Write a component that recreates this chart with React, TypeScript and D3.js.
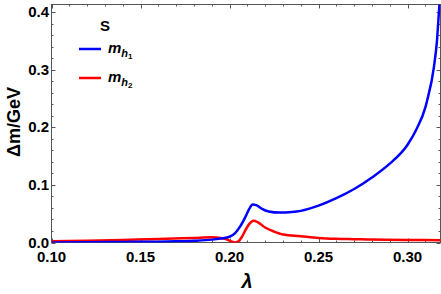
import React, { useEffect, useRef } from 'react';
import * as d3 from 'd3';

// lambda values and mass splittings
const lambdaH1 = [0.1, 0.12, 0.14, 0.16, 0.17, 0.18, 0.19, 0.195, 0.2, 0.203, 0.206, 0.209, 0.211, 0.213, 0.215, 0.218, 0.222, 0.228, 0.235, 0.24, 0.25, 0.26, 0.27, 0.28, 0.29, 0.3, 0.305, 0.31, 0.311, 0.3148, 0.3165, 0.3176, 0.3185];
const deltaH1 = [0.0, 0.0005, 0.001, 0.0015, 0.002, 0.003, 0.005, 0.007, 0.01, 0.016, 0.028, 0.045, 0.058, 0.066, 0.065, 0.059, 0.054, 0.052, 0.053, 0.055, 0.064, 0.077, 0.093, 0.113, 0.137, 0.17, 0.197, 0.235, 0.247, 0.305, 0.35, 0.4, 0.44];

const lambdaH2 = [0.1, 0.12, 0.14, 0.16, 0.18, 0.19, 0.195, 0.198, 0.201, 0.203, 0.205, 0.207, 0.209, 0.211, 0.2135, 0.216, 0.22, 0.225, 0.23, 0.24, 0.25, 0.26, 0.27, 0.28, 0.3, 0.3185];
const deltaH2 = [0.002, 0.003, 0.0045, 0.006, 0.008, 0.009, 0.008, 0.006, 0.002, 0.0, 0.002, 0.01, 0.022, 0.032, 0.038, 0.035, 0.026, 0.019, 0.014, 0.011, 0.008, 0.0065, 0.0058, 0.005, 0.0045, 0.004];

const xTicks = [0.1, 0.15, 0.2, 0.25, 0.3];
const yTicks = [0.0, 0.1, 0.2, 0.3, 0.4];

const App: React.FC = () => {
  const svgRef = useRef<SVGSVGElement>(null);

  useEffect(() => {
    document.body.style.margin = '0';
    document.body.style.overflow = 'hidden';

    const svg = d3.select(svgRef.current);
    svg.selectAll('*').remove();

    const width = 441;
    const height = 294;
    const left = 51.5, right = 440.5, top = 4.5, bottom = 242.5;

    svg.attr('width', width).attr('height', height);

    const x = d3.scaleLinear().domain([0.1, 0.3185]).range([left, right]);
    const y = d3.scaleLinear().domain([0, 0.4138]).range([bottom, top]);

    svg.append('defs').append('clipPath').attr('id', 'plot-clip')
      .append('rect')
      .attr('x', left).attr('y', top)
      .attr('width', right - left).attr('height', bottom - top);

    const axisColor = '#555';

    // frame
    svg.append('rect')
      .attr('x', left).attr('y', top)
      .attr('width', right - left).attr('height', bottom - top)
      .attr('fill', 'none')
      .attr('stroke', axisColor)
      .attr('stroke-width', 1);

    // x ticks (bottom + top, inward)
    const xMinor = d3.range(0.1, 0.3185, 0.01);
    xMinor.forEach(v => {
      const isMajor = xTicks.some(t => Math.abs(t - v) < 1e-6);
      const len = isMajor ? 4 : 2;
      const px = Math.round(x(v)) + 0.5;
      svg.append('line').attr('x1', px).attr('x2', px).attr('y1', bottom).attr('y2', bottom - len).attr('stroke', axisColor);
      svg.append('line').attr('x1', px).attr('x2', px).attr('y1', top).attr('y2', top + len).attr('stroke', axisColor);
    });

    // y ticks (left + right, inward)
    const yMinor = d3.range(0, 0.4138, 0.02);
    yMinor.forEach(v => {
      const isMajor = yTicks.some(t => Math.abs(t - v) < 1e-6);
      const len = isMajor ? 4 : 2;
      const py = Math.round(y(v)) + 0.5;
      svg.append('line').attr('x1', left).attr('x2', left + len).attr('y1', py).attr('y2', py).attr('stroke', axisColor);
      svg.append('line').attr('x1', right).attr('x2', right - len).attr('y1', py).attr('y2', py).attr('stroke', axisColor);
    });

    const font = '"Liberation Sans", Arial, sans-serif';

    // tick labels
    svg.append('g').selectAll('text')
      .data(xTicks)
      .enter()
      .append('text')
      .attr('x', d => x(d))
      .attr('y', 262)
      .attr('text-anchor', 'middle')
      .style('font-family', font)
      .style('font-weight', 'bold')
      .style('font-size', '15px')
      .text(d => d3.format('.2f')(d));

    svg.append('g').selectAll('text')
      .data(yTicks)
      .enter()
      .append('text')
      .attr('x', 49)
      .attr('y', d => y(d) + 5)
      .attr('text-anchor', 'end')
      .style('font-family', font)
      .style('font-weight', 'bold')
      .style('font-size', '15px')
      .text(d => d3.format('.1f')(d));

    // axis labels
    svg.append('text')
      .attr('transform', 'translate(20, 122) rotate(-90)')
      .attr('text-anchor', 'middle')
      .style('font-family', font)
      .style('font-weight', 'bold')
      .style('font-size', '18px')
      .text('Δm/GeV');

    svg.append('text')
      .attr('x', 247)
      .attr('y', 288)
      .attr('text-anchor', 'middle')
      .style('font-family', font)
      .style('font-weight', 'bold')
      .style('font-style', 'italic')
      .style('font-size', '20px')
      .text('λ');

    // curves
    const line = d3.line<[number, number]>()
      .x(d => x(d[0]))
      .y(d => y(d[1]))
      .curve(d3.curveMonotoneX);

    const plot = svg.append('g').attr('clip-path', 'url(#plot-clip)');

    const h2 = lambdaH2.map((l, i) => [l, deltaH2[i]] as [number, number]);
    const h1 = lambdaH1.map((l, i) => [l, deltaH1[i]] as [number, number]);

    plot.append('path')
      .datum(h2)
      .attr('fill', 'none')
      .attr('stroke', '#ff0000')
      .attr('stroke-width', 2.5)
      .attr('d', line);

    plot.append('path')
      .datum(h1)
      .attr('fill', 'none')
      .attr('stroke', '#0000ff')
      .attr('stroke-width', 2.5)
      .attr('d', line);

    // legend
    svg.append('text')
      .attr('x', 105)
      .attr('y', 31)
      .attr('text-anchor', 'middle')
      .style('font-family', font)
      .style('font-weight', 'bold')
      .style('font-size', '15px')
      .text('S');

    const legendItems = [
      { color: '#0000ff', sub: '1', yy: 49 },
      { color: '#ff0000', sub: '2', yy: 78 }
    ];
    legendItems.forEach(item => {
      svg.append('line')
        .attr('x1', 79).attr('x2', 101)
        .attr('y1', item.yy).attr('y2', item.yy)
        .attr('stroke', item.color)
        .attr('stroke-width', 2.5);
      const t = svg.append('text')
        .attr('x', 108)
        .attr('y', item.yy + 4)
        .style('font-family', font)
        .style('font-weight', 'bold')
        .style('font-style', 'italic')
        .style('font-size', '15px');
      t.append('tspan').text('m');
      t.append('tspan').attr('dy', 4).style('font-size', '11px').text('h');
      t.append('tspan').attr('dy', 2).style('font-size', '8px').style('font-style', 'normal').text(item.sub);
    });
  }, []);

  return (
    <div>
      <svg ref={svgRef} style={{ display: 'block' }}></svg>
    </div>
  );
};

export default App;
